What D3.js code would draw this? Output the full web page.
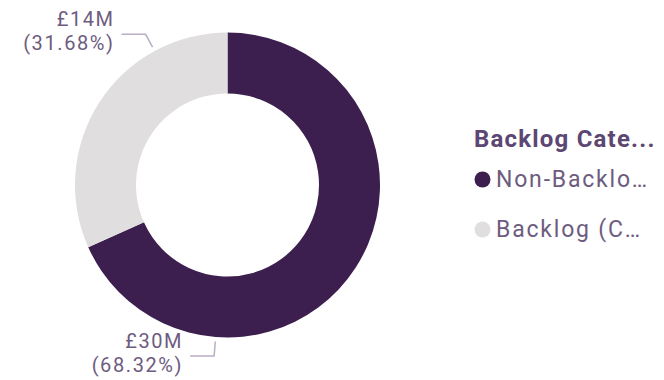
<!DOCTYPE html>
<html>
<head>
<meta charset="utf-8">
<script src="https://cdn.jsdelivr.net/npm/d3@7"></script>
<style>
body{margin:0;background:#fff;}
text{font-family:Roboto,"Open Sans",sans-serif;}
</style>
</head>
<body>
<div id="root"></div>
<script>
// data
var categories=['Non-Backlog','Backlog (C'];
var legendNames=['Non-Backlo…','Backlog (C…'];
var shares=[68.32,31.68];
var amountLabels=['£30M','£14M'];
var legendTitle='Backlog Cate...';
var colors=['#3d1f4f','#e0dede'];

var W=664,H=380;
var cx=227.5,cy=185,ro=152.5,ri=91.5;

var svg=d3.select('#root').append('svg')
	.attr('width',W)
	.attr('height',H);

var g=svg.append('g').attr('transform','translate('+cx+','+cy+')');

var pie=d3.pie().sort(null).value(function(d){return d});
var arcs=pie(shares);

var arc=d3.arc().innerRadius(ri).outerRadius(ro);

g.selectAll('.slice').data(arcs).enter().append('path')
	.attr('class','slice')
	.attr('d',arc)
	.attr('fill',function(d,i){return colors[i]});

// labels with leader lines, anchored 3/4 of the way through each slice
function pt(a,r){return [r*Math.sin(a),-r*Math.cos(a)]}

var lab=g.selectAll('.lab').data(arcs).enter().append('g').attr('class','lab');

lab.each(function(d,i){
	var a=d.startAngle+0.75*(d.endAngle-d.startAngle);
	var p0=pt(a,ro+4.5),p1=pt(a,ro+19);
	var p2=[p1[0]-24,p1[1]];
	var sel=d3.select(this);
	sel.append('polyline')
		.attr('points',[p0,p1,p2].map(function(p){return p.join(',')}).join(' '))
		.attr('fill','none').attr('stroke','#b9aec3').attr('stroke-width',1.5);
	sel.append('text').attr('text-anchor','end')
		.attr('x',p2[0]-7).attr('y',p2[1]-8)
		.attr('fill','#6e5c80').style('font-size','20px').style('letter-spacing','1.6px')
		.text(amountLabels[i]);
	sel.append('text').attr('text-anchor','end')
		.attr('x',p2[0]-7).attr('y',p2[1]+16)
		.attr('fill','#6e5c80').style('font-size','20px').style('letter-spacing','1.6px')
		.text('('+shares[i].toFixed(2)+'%)');
});

// legend
var lg=svg.append('g').attr('transform','translate(474,0)');
lg.append('text').attr('x',0).attr('y',147)
	.attr('fill','#5c4672').style('font-size','24px').style('font-weight',700)
	.style('letter-spacing','1.2px')
	.text(legendTitle);

var item=lg.selectAll('.item').data(legendNames).enter().append('g')
	.attr('class','item')
	.attr('transform',function(d,i){return 'translate(0,'+(187+i*50)+')'});
item.append('circle').attr('cx',8.5).attr('cy',-7.5).attr('r',8)
	.attr('fill',function(d,i){return colors[i]});
item.append('text').attr('x',22).attr('y',0)
	.attr('fill','#6e5c80').style('font-size','23px').style('letter-spacing','1.8px')
	.text(function(d){return d});
</script>
</body>
</html>
